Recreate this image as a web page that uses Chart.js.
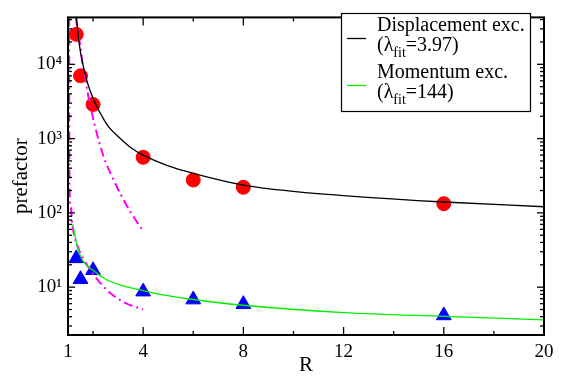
<!DOCTYPE html>
<html>
<head>
<meta charset="utf-8">
<script src="https://cdn.jsdelivr.net/npm/chart.js@4.4.1/dist/chart.umd.min.js"></script>
<style>
  html, body { margin: 0; padding: 0; background: #fff; }
</style>
</head>
<body>
<canvas id="prefactorChart" width="568" height="381"></canvas>
<script>
// measured prefactors
const rValues = [1.33, 1.5, 2, 4, 6, 8, 16];
const displacementVals = [25300, 7000, 2880, 560, 277, 221, 133];
const momentumVals = [24.4, 12.8, 16.9, 8.7, 6.8, 5.9, 4.16];

// fit curves
const dispFitR = [1.335, 1.45, 1.575, 1.78, 2.04, 2.2, 2.44, 2.64, 3.0, 3.5, 4, 5, 6, 8, 10, 12, 16, 20];
const dispFitVals = [42800, 18500, 10600, 5600, 3240, 2500, 1790, 1415, 1067, 760, 598, 430, 341, 237, 195, 171, 140, 121];
const momFitR = [1.19, 1.375, 1.574, 1.973, 2.503, 3.17, 3.96, 4.33, 6, 8, 12, 16, 20];
const momFitVals = [71, 34.8, 23.2, 17.1, 12.8, 10.5, 9.08, 8.47, 6.82, 5.71, 4.55, 4.04, 3.63];

// dash-dot curves
const upperDashR = [1.315, 1.403, 1.506, 1.574, 1.682, 1.774, 1.905, 2.041, 2.44, 2.77, 3.10, 3.50, 4];
const upperDashVals = [42800, 25800, 16600, 10600, 6810, 4360, 2640, 1640, 548, 303, 178, 102, 57];
const lowerDashR = [1.045, 1.05, 1.06, 1.108, 1.175, 1.375, 1.642, 1.973, 2.37, 2.77, 3.30, 4];
const lowerDashVals = [42800, 2400, 225, 124, 68.9, 36.2, 23.2, 15.6, 10.6, 7.9, 6.1, 5.0];

const xTicks = [1, 4, 8, 12, 16, 20];
const xMinorTicks = [2, 6, 10, 14, 18];
const yTicks = [10, 100, 1000, 10000];
const supers = { 1: '\u00b9', 2: '\u00b2', 3: '\u00b3', 4: '\u2074' };
const legendEntries = [
    { text: 'Displacement exc.', lambda: '3.97', color: '#000000' },
    { text: 'Momentum exc.', lambda: '144', color: '#00ee00' }
];

const toXY = (xs, ys) => xs.map((x, i) => ({ x: x, y: ys[i] }));
const serif = "'Liberation Serif', 'DejaVu Serif', serif";
Chart.defaults.font.family = serif;
Chart.defaults.color = '#000';

// inward ticks and frame, like the original plot
const frameTicks = {
    id: 'frameTicks',
    afterDatasetsDraw(chart) {
        const { ctx, chartArea: a, scales: { x, y } } = chart;
        ctx.save();
        ctx.strokeStyle = '#000';
        ctx.lineWidth = 1.3;
        const seg = (x1, y1, x2, y2) => { ctx.beginPath(); ctx.moveTo(x1, y1); ctx.lineTo(x2, y2); ctx.stroke(); };
        xTicks.concat(xMinorTicks).forEach(v => {
            if (v <= x.min || v >= x.max) return;
            const p = x.getPixelForValue(v);
            const len = xMinorTicks.includes(v) ? 4 : 8;
            seg(p, a.bottom, p, a.bottom - len);
            seg(p, a.top, p, a.top + len);
        });
        for (let d = 1; d <= 10000; d *= 10) {
            for (let m = 1; m <= 9; m++) {
                const v = m * d;
                if (v <= y.min || v >= y.max) continue;
                const p = y.getPixelForValue(v);
                const len = m === 1 ? 7 : 4;
                seg(a.left, p, a.left + len, p);
                seg(a.right, p, a.right - len, p);
            }
        }
        ctx.lineWidth = 2;
        ctx.strokeRect(a.left, a.top, a.right - a.left, a.bottom - a.top);
        ctx.restore();
    }
};

// boxed legend with subscripted lambda
const fitLegend = {
    id: 'fitLegend',
    afterDraw(chart) {
        const ctx = chart.ctx;
        ctx.save();
        ctx.fillStyle = '#fff';
        ctx.fillRect(341, 13, 189, 98);
        ctx.strokeStyle = '#000';
        ctx.lineWidth = 1.2;
        ctx.strokeRect(341.5, 13.5, 189, 98);
        const tx = 377;
        legendEntries.forEach((e, i) => {
            const top = 31 + i * 47;
            ctx.strokeStyle = e.color;
            ctx.lineWidth = 1.3;
            ctx.beginPath();
            ctx.moveTo(347, top + 7.5);
            ctx.lineTo(366, top + 7.5);
            ctx.stroke();
            ctx.fillStyle = '#000';
            ctx.textBaseline = 'alphabetic';
            ctx.font = '20px ' + serif;
            ctx.fillText(e.text, tx, top);
            const b2 = top + 20;
            let cx = tx;
            ctx.fillText('(\u03bb', cx, b2);
            cx += ctx.measureText('(\u03bb').width;
            ctx.font = '14px ' + serif;
            ctx.fillText('fit', cx, b2 + 6);
            cx += ctx.measureText('fit').width;
            ctx.font = '20px ' + serif;
            ctx.fillText('=' + e.lambda + ')', cx, b2);
        });
        ctx.restore();
    }
};

const dashDot = [9, 4, 2, 4];
const ctxPrefactor = document.getElementById('prefactorChart').getContext('2d');
const prefactorChart = new Chart(ctxPrefactor, {
    type: 'scatter',
    data: {
        datasets: [
            {
                label: 'Displacement exc. fit',
                data: toXY(dispFitR, dispFitVals),
                showLine: true,
                borderColor: '#000',
                borderWidth: 1.3,
                pointRadius: 0,
                cubicInterpolationMode: 'monotone'
            },
            {
                label: 'Momentum exc. fit',
                data: toXY(momFitR, momFitVals),
                showLine: true,
                borderColor: '#00ee00',
                borderWidth: 1.3,
                pointRadius: 0,
                cubicInterpolationMode: 'monotone'
            },
            {
                label: 'upper dash-dot',
                data: toXY(upperDashR, upperDashVals),
                showLine: true,
                borderColor: '#ff00ff',
                borderWidth: 2,
                borderDash: dashDot,
                pointRadius: 0,
                cubicInterpolationMode: 'monotone'
            },
            {
                label: 'lower dash-dot',
                data: toXY(lowerDashR, lowerDashVals),
                showLine: true,
                borderColor: '#ff00ff',
                borderWidth: 2,
                borderDash: dashDot,
                pointRadius: 0,
                cubicInterpolationMode: 'monotone'
            },
            {
                label: 'Displacement',
                data: toXY(rValues, displacementVals),
                backgroundColor: '#ff0000',
                borderColor: '#ff0000',
                pointRadius: 7,
                pointStyle: 'circle'
            },
            {
                label: 'Momentum',
                data: toXY(rValues, momentumVals),
                backgroundColor: '#0000ff',
                borderColor: '#0000ff',
                pointRadius: 8.5,
                pointStyle: 'triangle'
            }
        ]
    },
    options: {
        responsive: false,
        animation: false,
        devicePixelRatio: 1,
        layout: { padding: { top: 3, right: 24, left: 0, bottom: 0 } },
        plugins: {
            legend: { display: false },
            tooltip: { enabled: false }
        },
        scales: {
            x: {
                type: 'linear',
                min: 1,
                max: 20,
                afterFit: s => { s.height = 46; },
                afterBuildTicks: s => { s.ticks = xTicks.map(v => ({ value: v })); },
                grid: { display: false, drawTicks: false },
                border: { display: false },
                ticks: { font: { size: 19 }, padding: 6, maxRotation: 0, autoSkip: false },
                title: { display: true, text: 'R', font: { size: 21 }, padding: { top: 0, bottom: 3 } }
            },
            y: {
                type: 'logarithmic',
                min: 2.27,
                max: 42800,
                afterFit: s => { s.width = 68; },
                afterBuildTicks: s => { s.ticks = yTicks.map(v => ({ value: v })); },
                grid: { display: false, drawTicks: false },
                border: { display: false },
                ticks: {
                    font: { size: 19 },
                    padding: 6,
                    autoSkip: false,
                    callback: v => '10' + supers[Math.round(Math.log10(v))]
                },
                title: { display: true, text: 'prefactor', font: { size: 21 }, padding: { top: 9, bottom: 0 } }
            }
        }
    },
    plugins: [frameTicks, fitLegend]
});
</script>
</body>
</html>
